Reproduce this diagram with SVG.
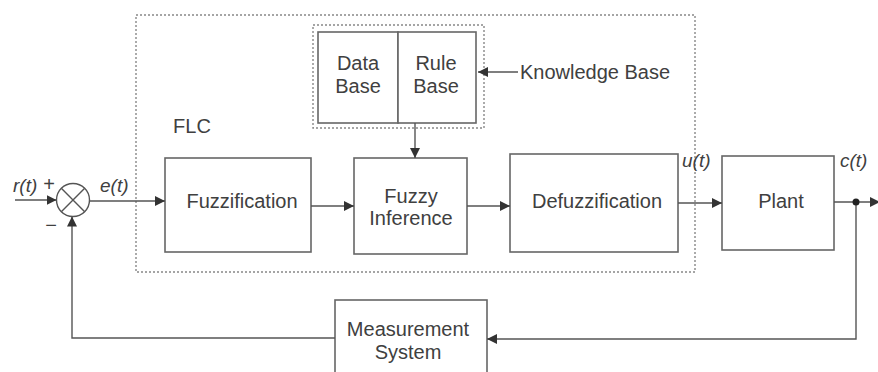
<svg xmlns="http://www.w3.org/2000/svg" width="878" height="372" viewBox="0 0 878 372">
<defs>
<marker id="arr" viewBox="0 0 10 10" refX="10" refY="5" markerWidth="10" markerHeight="10" markerUnits="userSpaceOnUse" orient="auto">
<path d="M0,0 L10,5 L0,10 z" fill="#333"/>
</marker>
</defs>
<style>
.box{fill:#fff;stroke:#666;stroke-width:1.6}
.dot{fill:none;stroke:#888;stroke-width:1.4;stroke-dasharray:2 2}
.ln{fill:none;stroke:#555;stroke-width:1.4}
.t{font-family:"Liberation Sans",Arial,sans-serif;font-size:20px;fill:#404040;text-anchor:middle}
.s{font-family:"Liberation Sans",Arial,sans-serif;font-size:19px;fill:#404040;font-style:italic}
</style>
<rect width="878" height="372" fill="#fff"/>
<g id="flc">
<rect class="dot" x="136" y="15" width="559" height="257"/>
<text class="t" x="192" y="133">FLC</text>
</g>
<g id="knowledge">
<rect class="dot" x="313" y="25" width="171" height="103"/>
<text class="t" x="520" y="79" style="text-anchor:start">Knowledge Base</text>
</g>
<g id="database">
<rect class="box" x="318" y="32" width="80" height="91"/>
<text class="t" x="358" y="70">Data</text>
<text class="t" x="358" y="93">Base</text>
</g>
<g id="rulebase">
<rect class="box" x="398" y="32" width="78" height="91"/>
<text class="t" x="436" y="70">Rule</text>
<text class="t" x="436" y="93">Base</text>
</g>
<g id="sum">
<circle cx="73" cy="200" r="16.5" fill="#fff" stroke="#555" stroke-width="1.4"/>
<path class="ln" d="M61.3,188.3 L84.7,211.7 M84.7,188.3 L61.3,211.7"/>
<text class="t" x="49" y="191">+</text>
<text class="t" x="51" y="232">−</text>
</g>
<g id="fuzzification">
<rect class="box" x="165" y="158" width="146" height="94"/>
<text class="t" x="242" y="208">Fuzzification</text>
</g>
<g id="inference">
<rect class="box" x="354" y="158" width="113" height="96"/>
<text class="t" x="411" y="203">Fuzzy</text>
<text class="t" x="411" y="225">Inference</text>
</g>
<g id="defuzzification">
<rect class="box" x="510" y="154" width="168" height="98"/>
<text class="t" x="597" y="208">Defuzzification</text>
</g>
<g id="plant">
<rect class="box" x="722" y="156" width="112" height="94"/>
<text class="t" x="781" y="208">Plant</text>
</g>
<g id="measurement">
<rect class="box" x="335" y="300" width="152" height="80"/>
<text class="t" x="408" y="336">Measurement</text>
<text class="t" x="408" y="359">System</text>
</g>
<g id="labels">
<text class="s" x="13" y="192">r(t)</text>
<text class="s" x="100" y="192">e(t)</text>
<text class="s" x="682" y="167">u(t)</text>
<text class="s" x="840" y="167">c(t)</text>
</g>
<g id="connectors">
<path class="ln" d="M15,200 H56.5" marker-end="url(#arr)"/>
<path class="ln" d="M89.5,201 H165" marker-end="url(#arr)"/>
<path class="ln" d="M311,206 H354" marker-end="url(#arr)"/>
<path class="ln" d="M467,206 H510" marker-end="url(#arr)"/>
<path class="ln" d="M678,203 H722" marker-end="url(#arr)"/>
<path class="ln" d="M834,202 H880" marker-end="url(#arr)"/>
<path class="ln" d="M415,123 V158" marker-end="url(#arr)"/>
<path class="ln" d="M518,72 H478" marker-end="url(#arr)"/>
<path class="ln" d="M856,202 V339 H487" marker-end="url(#arr)"/>
<path class="ln" d="M335,338 H72 V216.5" marker-end="url(#arr)"/>
<circle cx="856" cy="202" r="3.5" fill="#222"/>
</g>
</svg>
